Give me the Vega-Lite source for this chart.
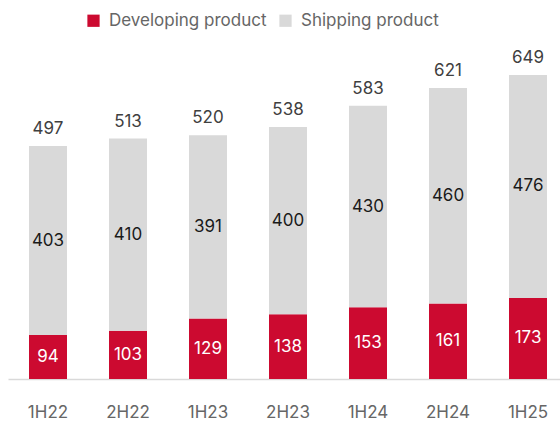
{
  "$schema": "https://vega.github.io/schema/vega-lite/v6.json",
  "width": 560,
  "height": 328,
  "autosize": {"type": "none"},
  "padding": {"left": 8, "top": 51, "right": 0, "bottom": 44},
  "config": {"view": {"stroke": null}, "font": "Inter"},
  "data": {
    "values": [
      {"period": "1H22", "type": "Developing product", "ord": 1, "value": 94},
      {"period": "1H22", "type": "Shipping product", "ord": 2, "value": 403},
      {"period": "2H22", "type": "Developing product", "ord": 1, "value": 103},
      {"period": "2H22", "type": "Shipping product", "ord": 2, "value": 410},
      {"period": "1H23", "type": "Developing product", "ord": 1, "value": 129},
      {"period": "1H23", "type": "Shipping product", "ord": 2, "value": 391},
      {"period": "2H23", "type": "Developing product", "ord": 1, "value": 138},
      {"period": "2H23", "type": "Shipping product", "ord": 2, "value": 400},
      {"period": "1H24", "type": "Developing product", "ord": 1, "value": 153},
      {"period": "1H24", "type": "Shipping product", "ord": 2, "value": 430},
      {"period": "2H24", "type": "Developing product", "ord": 1, "value": 161},
      {"period": "2H24", "type": "Shipping product", "ord": 2, "value": 460},
      {"period": "1H25", "type": "Developing product", "ord": 1, "value": 173},
      {"period": "1H25", "type": "Shipping product", "ord": 2, "value": 476}
    ]
  },
  "encoding": {
    "x": {
      "field": "period",
      "type": "nominal",
      "sort": null,
      "scale": {"paddingInner": 0.525, "paddingOuter": 0.2625},
      "axis": {
        "title": null,
        "labelAngle": 0,
        "ticks": false,
        "labelFontSize": 17,
        "labelColor": "#666666",
        "labelPadding": 25,
        "domainColor": "#d9d9d9",
        "domainWidth": 1.5
      }
    }
  },
  "layer": [
    {
      "mark": {"type": "bar"},
      "encoding": {
        "y": {
          "field": "value",
          "type": "quantitative",
          "stack": "zero",
          "scale": {"domain": [0, 700], "nice": false},
          "axis": null
        },
        "color": {
          "field": "type",
          "type": "nominal",
          "scale": {
            "domain": ["Developing product", "Shipping product"],
            "range": ["#cc0a30", "#d9d9d9"]
          },
          "legend": {
            "title": null,
            "orient": "none",
            "direction": "horizontal",
            "legendX": 77,
            "legendY": -39,
            "symbolType": "square",
            "symbolSize": 150,
            "symbolStrokeWidth": 0,
            "labelFontSize": 17,
            "labelColor": "#666666",
            "columnPadding": 10,
            "labelOffset": 7
          }
        },
        "order": {"field": "ord", "type": "quantitative"}
      }
    },
    {
      "transform": [
        {"stack": "value", "groupby": ["period"], "sort": [{"field": "ord"}], "as": ["v0", "v1"]},
        {"calculate": "(datum.v0 + datum.v1) / 2", "as": "mid"}
      ],
      "mark": {"type": "text", "fontSize": 17, "baseline": "middle"},
      "encoding": {
        "y": {"field": "mid", "type": "quantitative"},
        "text": {"field": "value", "type": "quantitative"},
        "color": {
          "condition": {"test": "datum.type === 'Developing product'", "value": "#ffffff"},
          "value": "#1a1a1a"
        }
      }
    },
    {
      "transform": [
        {"aggregate": [{"op": "sum", "field": "value", "as": "total"}], "groupby": ["period"]}
      ],
      "mark": {"type": "text", "fontSize": 17, "baseline": "bottom", "dy": -8, "color": "#404040"},
      "encoding": {
        "y": {"field": "total", "type": "quantitative"},
        "text": {"field": "total", "type": "quantitative"}
      }
    }
  ]
}
